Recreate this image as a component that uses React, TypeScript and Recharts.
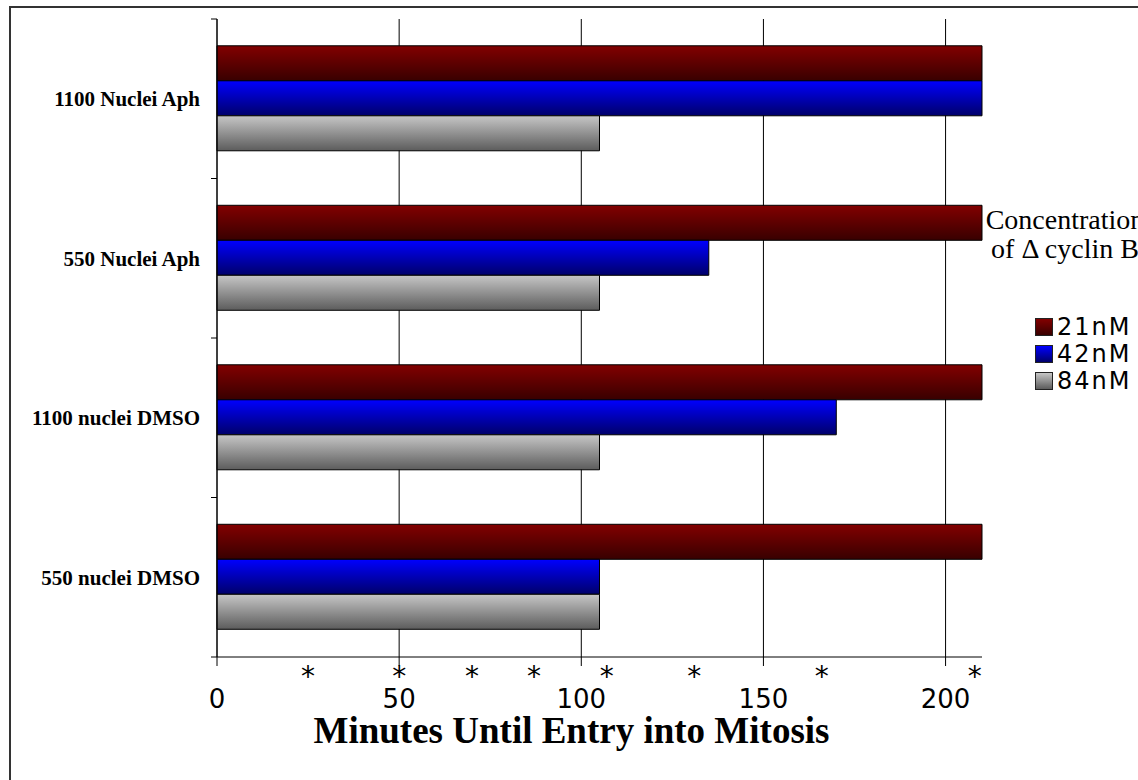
import { BarChart, Bar, XAxis, YAxis, CartesianGrid, Legend, Label, ReferenceLine } from 'recharts'

// conditions, top to bottom
const conditions = ['1100 Nuclei Aph', '550 Nuclei Aph', '1100 nuclei DMSO', '550 nuclei DMSO']

// minutes until entry into mitosis per Δ cyclin B concentration
const minutes21nM = [210, 210, 210, 210]
const minutes42nM = [210, 135, 170, 105]
const minutes84nM = [105, 105, 105, 105]

const concentrations = ['21nM', '42nM', '84nM']
const minuteTicks = [0, 50, 100, 150, 200]
// time points marked with an asterisk under the axis
const starredMinutes = [25, 50, 70, 87, 107, 131, 166, 208]

const serif = '"Liberation Serif", "Times New Roman", serif'
const sans = '"DejaVu Sans", Verdana, sans-serif'

const series = [
  { key: 'c21', name: concentrations[0], top: '#820000', bottom: '#380000' },
  { key: 'c42', name: concentrations[1], top: '#0000ff', bottom: '#00006a' },
  { key: 'c84', name: concentrations[2], top: '#c6c6c6', bottom: '#5c5c5c' },
]

const data = conditions.map((c, i) => ({
  condition: c,
  c21: minutes21nM[i],
  c42: minutes42nM[i],
  c84: minutes84nM[i],
}))

// category label with tick marks on the band edges
function ConditionTick(props: any) {
  const { x, y, payload } = props
  const half = payload.offset || 0
  const isLast = payload.value === conditions[conditions.length - 1]
  return (
    <g>
      <line x1={x + 11} x2={x + 17} y1={y - half} y2={y - half} stroke="#000" />
      {isLast && <line x1={x + 11} x2={x + 17} y1={y + half} y2={y + half} stroke="#000" />}
      <text x={x} y={y} dy="0.35em" textAnchor="end" fontFamily={serif} fontWeight="bold" fontSize={21} fill="#000">
        {payload.value}
      </text>
    </g>
  )
}

function ConcentrationLegend() {
  return (
    <div style={{ width: 160, fontFamily: serif, color: '#000' }}>
      <div style={{ fontSize: 28, lineHeight: '29px', textAlign: 'center', whiteSpace: 'nowrap' }}>
        Concentration
        <br />
        of Δ cyclin B
      </div>
      <div style={{ marginTop: 50, marginLeft: 50 }}>
        {series.map((s) => (
          <div key={s.key} style={{ display: 'flex', alignItems: 'center', height: 27 }}>
            <span
              style={{
                width: 16,
                height: 16,
                border: '1px solid #222',
                background: `linear-gradient(${s.top}, ${s.bottom})`,
                marginRight: 4,
              }}
            />
            <span style={{ fontFamily: sans, fontSize: 24, lineHeight: '26px', letterSpacing: 2 }}>{s.name}</span>
          </div>
        ))}
      </div>
    </div>
  )
}

export default function App() {
  return (
    <div style={{ position: 'fixed', left: 0, top: 0, width: 1138, height: 780, overflow: 'hidden', background: '#fff' }}>
      <div
        style={{
          position: 'absolute',
          left: 9,
          top: 6,
          width: 1300,
          height: 900,
          border: '2px solid #333',
        }}
      />
      <div style={{ position: 'absolute', left: 0, top: 0 }}>
        <BarChart
          width={1138}
          height={780}
          data={data}
          layout="vertical"
          margin={{ top: 19, right: 156, bottom: 122, left: 17 }}
          barCategoryGap="16.8%"
          barGap={0}
        >
          <defs>
            {series.map((s) => (
              <linearGradient key={s.key} id={`grad-${s.key}`} x1="0" y1="0" x2="0" y2="1">
                <stop offset="0%" stopColor={s.top} />
                <stop offset="100%" stopColor={s.bottom} />
              </linearGradient>
            ))}
          </defs>
          <CartesianGrid horizontal={false} syncWithTicks stroke="#000" strokeWidth={1} />
          <XAxis
            type="number"
            domain={[0, 210]}
            ticks={minuteTicks}
            height={1}
            tickSize={9}
            tickMargin={24}
            axisLine={{ stroke: '#000' }}
            tickLine={{ stroke: '#000' }}
            tick={{ fontFamily: sans, fontSize: 26, fill: '#000' }}
            interval={0}
          >
            <Label
              value="Minutes Until Entry into Mitosis"
              position="bottom"
              offset={59}
              dx={-28}
              style={{ fontFamily: serif, fontWeight: 'bold', fontSize: 37, fill: '#000' }}
            />
          </XAxis>
          <YAxis
            type="category"
            dataKey="condition"
            width={200}
            tickSize={6}
            tickMargin={11}
            tickLine={false}
            axisLine={{ stroke: '#000' }}
            tick={<ConditionTick />}
          />
          <Legend
            layout="vertical"
            align="center"
            verticalAlign="middle"
            content={() => <ConcentrationLegend />}
            wrapperStyle={{ left: 985, top: 205, width: 160 }}
          />
          {series.map((s) => (
            <Bar
              key={s.key}
              dataKey={s.key}
              name={s.name}
              fill={`url(#grad-${s.key})`}
              stroke="#000"
              strokeWidth={1}
              isAnimationActive={false}
            />
          ))}
          {starredMinutes.map((t) => (
            <ReferenceLine
              key={t}
              x={t}
              stroke="none"
              label={{
                value: '*',
                position: 'bottom',
                offset: 9,
                style: { fontFamily: sans, fontSize: 28, fill: '#000' },
              }}
            />
          ))}
        </BarChart>
      </div>
    </div>
  )
}
